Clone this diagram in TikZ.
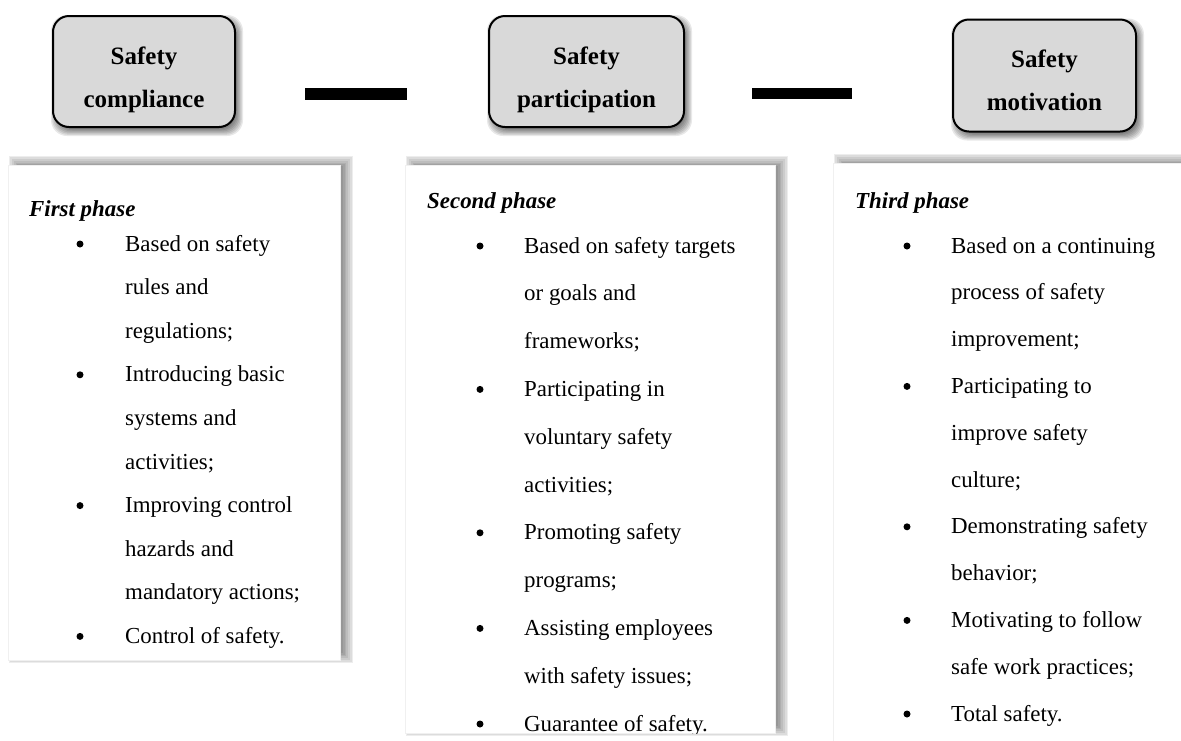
\documentclass[tikz,border=0pt]{standalone}
\usepackage{fontspec}
\setmainfont{Liberation Serif}
\usetikzlibrary{backgrounds}
\tikzset{
  hdr/.style={draw=black, line width=2pt, fill=black!15, rounded corners=16pt, inner sep=0pt},
  hdrtxt/.style={inner sep=0pt, align=center, font=\fontsize{25}{43}\selectfont\bfseries},
  phase/.style={fill=white, draw=black!6, line width=0.5pt, inner sep=0pt},
  bar/.style={fill=black, inner sep=0pt},
  ltxt/.style={anchor=base west, inner sep=0pt, font=\fontsize{22.9}{26}\selectfont},
  bul/.style={circle, fill=black, inner sep=0pt, minimum size=7pt},
  phead/.style={anchor=base west, inner sep=0pt, font=\fontsize{22.9}{26}\selectfont\bfseries\itshape}
}
\newcommand\nodeshadow[6]{%
  \foreach \k in {0,...,7}{%
    \pgfmathsetmacro\ee{#4*(\k/3.5-1)}%
    \pgfmathsetmacro\xa{#2-\ee}\pgfmathsetmacro\ya{-(#3)+\ee}%
    \pgfmathsetmacro\xb{#2+\ee}\pgfmathsetmacro\yb{-(#3)-\ee}%
    \fill[black, fill opacity=#5, rounded corners=#6]
      ([xshift=\xa pt, yshift=\ya pt]#1.north west) rectangle ([xshift=\xb pt, yshift=\yb pt]#1.south east);
  }}
\begin{document}
\begin{tikzpicture}[x=1pt,y=-1pt]
\useasboundingbox (0,0) rectangle (1181,740);

% header boxes
\node[hdr, minimum width=182pt, minimum height=111pt] (h1) at (144,71.5) {};
\node[hdr, minimum width=195pt, minimum height=111pt] (h2) at (586.5,71.5) {};
\node[hdr, minimum width=183pt, minimum height=112pt] (h3) at (1044.5,75.5) {};
\node[hdrtxt] (h1t) at ([yshift=-8pt]h1.center) {Safety\\compliance};
\node[hdrtxt] (h2t) at ([yshift=-8pt]h2.center) {Safety\\participation};
\node[hdrtxt] (h3t) at ([yshift=-5pt]h3.center) {Safety\\motivation};

% bars between header boxes
\node[bar, minimum width=102pt, minimum height=12pt] (b1) at (356,94) {};
\node[bar, minimum width=100pt, minimum height=11pt] (b2) at (802,93.5) {};

% phase boxes
\node[phase, minimum width=332pt, minimum height=495pt] (p1) at (174,412.5) {};
\node[phase, minimum width=370pt, minimum height=568pt] (p2) at (590,449) {};
\node[phase, minimum width=367pt, minimum height=597pt] (p3) at (1016.5,461.5) {};

% first phase
\node[phead] (t1) at (29,216) {First phase};
\foreach \t [count=\k from 0] in {Based on safety,rules and,regulations;,Introducing basic,systems and,activities;,Improving control,hazards and,mandatory actions;,Control of safety.}
  \node[ltxt] (a\k) at (125,{251+43.6*\k}) {\t};
\foreach \k in {0,3,6,9}
  \node[bul] (ab\k) at (80,{244+43.6*\k}) {};

% second phase
\begin{scope}
\clip (p2.north west) rectangle (p2.south east);
\node[phead] (t2) at (427,208) {Second phase};
\foreach \t [count=\k from 0] in {Based on safety targets,or goals and,frameworks;,Participating in,voluntary safety,activities;,Promoting safety,programs;,Assisting employees,with safety issues;,Guarantee of safety.}
  \node[ltxt] (b\k) at (524,{253+47.8*\k}) {\t};
\foreach \k in {0,3,6,8,10}
  \node[bul] (bb\k) at (480,{246+47.8*\k}) {};
\end{scope}

% third phase
\node[phead] (t3) at (855,208) {Third phase};
\foreach \t [count=\k from 0] in {Based on a continuing,process of safety,improvement;,Participating to,improve safety,culture;,Demonstrating safety,behavior;,Motivating to follow,safe work practices;,Total safety.}
  \node[ltxt] (c\k) at (951,{253+46.8*\k}) {\t};
\foreach \k in {0,3,6,8,10}
  \node[bul] (cb\k) at (907,{246+46.8*\k}) {};

\begin{scope}[on background layer]
  \fill[white] (0,0) rectangle (1181,740);
  \nodeshadow{h1}{3}{4}{4}{0.09}{16pt}
  \nodeshadow{h2}{3}{4}{4}{0.09}{16pt}
  \nodeshadow{h3}{3}{4}{4}{0.09}{16pt}
  \nodeshadow{b1}{2}{4}{3}{0.08}{0pt}
  \nodeshadow{b2}{2}{4}{3}{0.08}{0pt}
  \nodeshadow{p1}{7}{-3}{6}{0.07}{0pt}
  \nodeshadow{p2}{7}{-3}{6}{0.07}{0pt}
  \nodeshadow{p3}{7}{-3}{6}{0.07}{0pt}
\end{scope}
\end{tikzpicture}
\end{document}
